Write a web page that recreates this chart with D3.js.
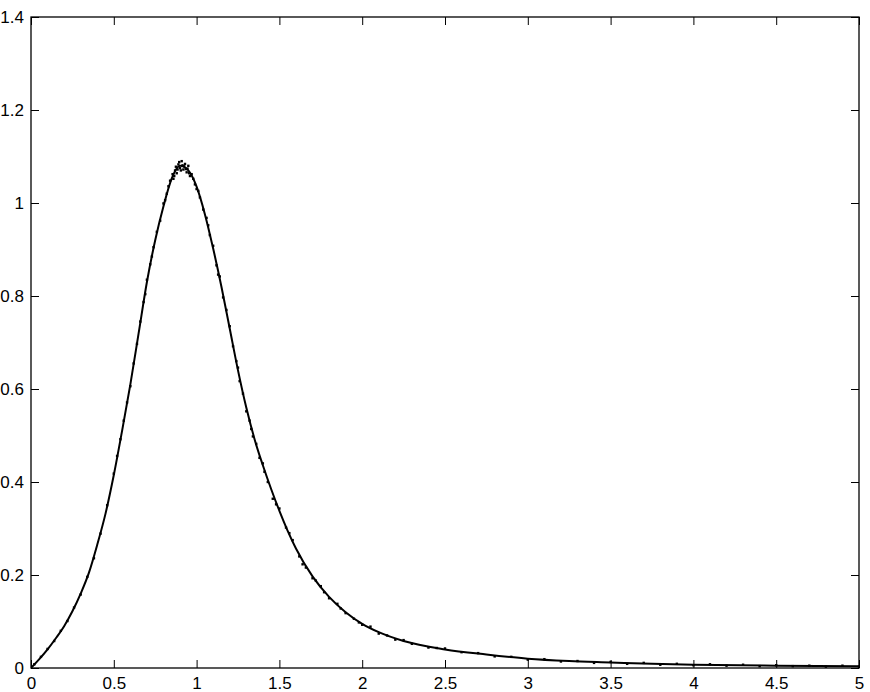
<!DOCTYPE html>
<html lang="en">
<head>
<meta charset="utf-8">
<script src="https://d3js.org/d3.v7.min.js"></script>
<style>
  body { margin: 0; background: #fff; }
  text { font-family: "Liberation Sans", Arial, Helvetica, sans-serif; font-size: 17px; fill: #000; }
</style>
</head>
<body>
<script>
// fitted curve (solid line)
const lineX = [0, 0.05, 0.1, 0.15, 0.2, 0.25, 0.3, 0.35, 0.4, 0.45, 0.5, 0.55, 0.6, 0.65, 0.7, 0.75, 0.8, 0.85, 0.9, 0.95,
  1.0, 1.05, 1.1, 1.15, 1.2, 1.25, 1.3, 1.35, 1.4, 1.45, 1.5, 1.55, 1.6, 1.7, 1.8, 1.9, 2.0, 2.1, 2.25, 2.5, 2.75,
  3.0, 3.25, 3.5, 3.75, 4.0, 4.5, 5.0];
const lineY = [0, 0.019, 0.040, 0.064, 0.090, 0.122, 0.160, 0.205, 0.265, 0.332, 0.415, 0.510, 0.610, 0.720, 0.830, 0.920, 0.993, 1.053, 1.080, 1.070,
  1.035, 0.976, 0.902, 0.820, 0.730, 0.640, 0.560, 0.492, 0.436, 0.385, 0.338, 0.295, 0.257, 0.197, 0.153, 0.120, 0.095, 0.077, 0.058, 0.040, 0.029,
  0.020, 0.015, 0.012, 0.009, 0.007, 0.005, 0.004];

// sampled points (dots)
const dotX = [0.02, 0.06, 0.1, 0.14, 0.18, 0.22, 0.26, 0.3, 0.34, 0.38, 0.42, 0.46, 0.5, 0.52, 0.54, 0.56, 0.58, 0.6, 0.62, 0.64,
  0.66, 0.68, 0.7, 0.72, 0.74, 0.76, 0.78, 0.8, 0.82, 0.84, 0.86, 0.87, 0.88, 0.89, 0.9, 0.91, 0.92, 0.93, 0.94, 0.95,
  0.96, 0.98, 1.0, 1.02, 1.04, 1.06, 1.08, 1.1, 1.12, 1.14, 1.16, 1.18, 1.2, 1.22, 1.24, 1.26, 1.28, 1.3, 1.32, 1.34,
  1.36, 1.38, 1.4, 1.43, 1.46, 1.5, 1.54, 1.58, 1.62, 1.66, 1.7, 1.75, 1.8, 1.85, 1.9, 1.95, 2.0, 2.05, 2.1, 2.15,
  2.2, 2.3, 2.4, 2.5, 2.6, 2.7, 2.8, 2.9, 3.0, 3.1, 3.2, 3.3, 3.4, 3.5, 3.6, 3.7, 3.8, 3.9, 4.0, 4.1,
  4.2, 4.3, 4.4, 4.5, 4.6, 4.7, 4.8, 4.9, 5.0,
  0.81, 0.83, 0.855, 0.865, 0.875, 0.885, 0.895, 0.905, 0.915, 0.925, 0.935, 0.945, 0.955, 0.97, 0.99, 1.01,
  0.69, 0.73, 1.07, 1.13, 1.25, 1.33, 1.41, 1.48, 1.56, 1.64, 1.72, 1.77, 1.87, 1.98, 2.25, 2.45];
const dotY = [0.008, 0.024, 0.041, 0.058, 0.080, 0.101, 0.130, 0.158, 0.196, 0.236, 0.289, 0.350, 0.418, 0.456, 0.492, 0.532, 0.571, 0.606, 0.655, 0.697,
  0.745, 0.787, 0.835, 0.868, 0.905, 0.938, 0.962, 0.999, 1.020, 1.048, 1.052, 1.070, 1.064, 1.083, 1.075, 1.090, 1.072, 1.084, 1.066, 1.080,
  1.058, 1.052, 1.030, 1.012, 0.986, 0.968, 0.931, 0.908, 0.866, 0.842, 0.797, 0.770, 0.735, 0.692, 0.660, 0.617, 0.590, 0.552, 0.532, 0.498,
  0.482, 0.452, 0.440, 0.400, 0.364, 0.343, 0.302, 0.275, 0.240, 0.216, 0.193, 0.176, 0.150, 0.138, 0.118, 0.106, 0.093, 0.089, 0.074, 0.070,
  0.061, 0.052, 0.044, 0.042, 0.034, 0.032, 0.025, 0.024, 0.018, 0.019, 0.014, 0.015, 0.011, 0.013, 0.009, 0.011, 0.007, 0.009, 0.006, 0.008,
  0.005, 0.007, 0.004, 0.006, 0.004, 0.005, 0.003, 0.005, 0.003,
  1.006, 1.036, 1.062, 1.058, 1.078, 1.072, 1.088, 1.070, 1.081, 1.079, 1.073, 1.074, 1.064, 1.062, 1.040, 1.026,
  0.804, 0.885, 0.952, 0.846, 0.646, 0.514, 0.422, 0.352, 0.290, 0.223, 0.188, 0.163, 0.128, 0.098, 0.060, 0.043];

const xTicks = [0, 0.5, 1, 1.5, 2, 2.5, 3, 3.5, 4, 4.5, 5];
const yTicks = [0, 0.2, 0.4, 0.6, 0.8, 1, 1.2, 1.4];

const width = 870, height = 692;
const plotLeft = 31, plotRight = 859, plotTop = 17, plotBottom = 668;
const tickLen = 8;

const svg = d3.select("body").append("svg")
  .attr("width", width)
  .attr("height", height);

const x = d3.scaleLinear().domain([0, 5]).range([plotLeft, plotRight]);
const y = d3.scaleLinear().domain([0, 1.4]).range([plotBottom, plotTop]);

// bottom axis, ticks pointing inward
svg.append("g")
  .attr("transform", "translate(0," + plotBottom + ")")
  .call(d3.axisBottom(x).tickValues(xTicks).tickSize(-tickLen).tickPadding(9).tickFormat(d3.format("")))
  .call(g => g.select(".domain").remove());

// top ticks
svg.append("g")
  .attr("transform", "translate(0," + plotTop + ")")
  .call(d3.axisTop(x).tickValues(xTicks).tickSize(-tickLen).tickFormat(""))
  .call(g => g.select(".domain").remove());

// left axis
svg.append("g")
  .attr("transform", "translate(" + plotLeft + ",0)")
  .call(d3.axisLeft(y).tickValues(yTicks).tickSize(-tickLen).tickPadding(7).tickFormat(d3.format("")))
  .call(g => g.select(".domain").remove());

// right ticks
svg.append("g")
  .attr("transform", "translate(" + plotRight + ",0)")
  .call(d3.axisRight(y).tickValues(yTicks).tickSize(-tickLen).tickFormat(""))
  .call(g => g.select(".domain").remove());

svg.selectAll(".tick line").attr("stroke", "#000");
svg.selectAll(".tick text")
  .style("font-family", "'Liberation Sans', Arial, sans-serif")
  .style("font-size", "17px")
  .attr("fill", "#000");

// box
svg.append("rect")
  .attr("x", plotLeft).attr("y", plotTop)
  .attr("width", plotRight - plotLeft).attr("height", plotBottom - plotTop)
  .attr("fill", "none")
  .attr("stroke", "#000")
  .attr("stroke-width", 1.3);

svg.append("clipPath").attr("id", "clip")
  .append("rect")
  .attr("x", plotLeft).attr("y", plotTop)
  .attr("width", plotRight - plotLeft).attr("height", plotBottom - plotTop);

const plot = svg.append("g").attr("clip-path", "url(#clip)");

const lineData = lineX.map((d, i) => ({x: d, y: lineY[i]}));
plot.append("path")
  .datum(lineData)
  .attr("fill", "none")
  .attr("stroke", "#000")
  .attr("stroke-width", 2)
  .attr("d", d3.line()
    .x(d => x(d.x))
    .y(d => y(d.y))
    .curve(d3.curveMonotoneX));

const dots = dotX.map((d, i) => ({x: d, y: dotY[i]}));
plot.selectAll("rect.dot")
  .data(dots)
  .enter()
  .append("rect")
  .attr("class", "dot")
  .attr("x", d => x(d.x) - 1.2)
  .attr("y", d => y(d.y) - 1.2)
  .attr("width", 2.4)
  .attr("height", 2.4)
  .attr("fill", "#000");
</script>
</body>
</html>
